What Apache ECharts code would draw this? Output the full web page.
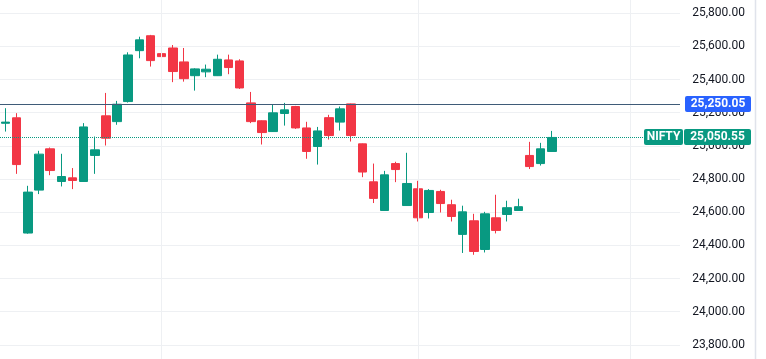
<!DOCTYPE html>
<html>
<head>
<meta charset="utf-8">
<script src="https://cdn.jsdelivr.net/npm/echarts@6/dist/echarts.min.js"></script>
<style>
  html, body { margin: 0; padding: 0; background: #ffffff; }
  #chart { width: 766px; height: 359px; }
</style>
</head>
<body>
<div id="chart"></div>
<script>
// Trading days (including empty future slots up to the right edge)
const dates = [
  '2025-06-11','2025-06-12','2025-06-13','2025-06-16','2025-06-17','2025-06-18','2025-06-19','2025-06-20',
  '2025-06-23','2025-06-24','2025-06-25','2025-06-26','2025-06-27','2025-06-30',
  '2025-07-01','2025-07-02','2025-07-03','2025-07-04','2025-07-07','2025-07-08','2025-07-09','2025-07-10',
  '2025-07-11','2025-07-14','2025-07-15','2025-07-16','2025-07-17','2025-07-18','2025-07-21','2025-07-22',
  '2025-07-23','2025-07-24','2025-07-25','2025-07-28','2025-07-29','2025-07-30','2025-07-31',
  '2025-08-01','2025-08-04','2025-08-05','2025-08-06','2025-08-07','2025-08-08','2025-08-11','2025-08-12',
  '2025-08-13','2025-08-14','2025-08-18','2025-08-19','2025-08-20',
  '2025-08-21','2025-08-22','2025-08-25','2025-08-26','2025-08-28','2025-08-29',
  '2025-09-01','2025-09-02','2025-09-03','2025-09-04','2025-09-05'
];

const opens  = [25136,25169,24474,24733,24982,24785,24807,24785,24942,25181,25146,25267,25574,25664,
                25556,25590,25506,25423,25446,25423,25518,25512,25259,25151,25086,25195,25237,25108,24996,25170,
                25143,25253,25012,24783,24610,24893,24640,
                24741,24598,24725,24645,24466,24548,24375,24566,24586,24610,24942,24893,24966];
const closes = [25143,24887,24721,24950,24851,24815,24791,25114,24976,25046,25251,25548,25639,25514,
                25538,25448,25405,25464,25462,25522,25472,25349,25146,25080,25199,25217,25108,24966,25090,25062,
                25223,25062,24842,24683,24825,24857,24773,
                24566,24731,24652,24574,24602,24363,24590,24490,24627,24633,24875,24982,25050.55];
const lows   = [25086,24831,24470,24709,24823,24755,24739,24783,24831,25002,25127,25261,25528,25478,
                25502,25384,25387,25333,25414,25421,25432,25343,25137,25008,25084,25122,25102,24922,24887,25038,
                25092,25026,24811,24655,24608,24781,24638,
                24544,24562,24598,24544,24354,24343,24357,24472,24544,24608,24860,24881,24964];
const highs  = [25227,25197,24759,24970,24990,24952,24866,25137,25056,25319,25271,25564,25658,25669,
                25595,25608,25590,25468,25490,25550,25550,25522,25325,25153,25251,25259,25241,25145,25114,25187,
                25237,25255,25014,24893,24849,24904,24958,
                24789,24739,24735,24675,24639,24590,24602,24705,24669,24681,25024,25018,25090];

const monthStarts = ['2025-07-01','2025-08-01','2025-09-01'];
const yTicks = { min: 23600, max: 26000, step: 200 };
const refLevel = 25250.05;
const lastPrice = 25050.55;
const symbol = 'NIFTY';

const UP = '#089981', DOWN = '#f23645';

function fmt(v) {
  const s = Number(v).toFixed(2);
  const parts = s.split('.');
  parts[0] = parts[0].replace(/\B(?=(\d{3})+(?!\d))/g, ',');
  return parts.join('.');
}

const ohlc = opens.map((o, i) => [o, closes[i], lows[i], highs[i]]);

const chart = echarts.init(document.getElementById('chart'), null, { renderer: 'canvas' });

chart.setOption({
  animation: false,
  backgroundColor: '#ffffff',
  grid: { left: 0, right: 86, top: -20, bottom: -19, containLabel: false, outerBoundsMode: 'none' },
  xAxis: {
    type: 'category',
    data: dates,
    boundaryGap: true,
    axisLine: { show: false },
    axisTick: { show: false },
    axisLabel: { show: false },
    splitLine: { show: false }
  },
  yAxis: {
    type: 'value',
    position: 'right',
    min: yTicks.min,
    max: yTicks.max,
    interval: yTicks.step,
    axisLine: { show: false },
    axisTick: { show: false },
    axisLabel: {
      align: 'right',
      margin: 65,
      color: '#131722',
      fontSize: 12,
      fontFamily: 'Roboto',
      formatter: v => fmt(v)
    },
    splitLine: { show: true, lineStyle: { color: '#eef0f3', width: 1 } }
  },
  series: [
    {
      type: 'line',
      data: [],
      z: 1,
      silent: true,
      markLine: {
        silent: true,
        symbol: ['none', 'none'],
        label: { show: false },
        lineStyle: { color: '#eef0f3', type: 'solid', width: 1 },
        data: monthStarts.map(d => ({ xAxis: d }))
      }
    },
    {
      type: 'candlestick',
      name: symbol,
      z: 2,
      barWidth: 9,
      data: ohlc,
      itemStyle: {
        color: UP, color0: DOWN,
        borderColor: UP, borderColor0: DOWN,
        borderWidth: 1
      },
      markLine: {
        silent: true,
        symbol: ['none', 'none'],
        label: { show: false },
        data: [
          { yAxis: refLevel, lineStyle: { color: '#3f5b78', type: 'solid', width: 1 } },
          { yAxis: lastPrice, lineStyle: { color: UP, type: 'dotted', width: 1 } }
        ]
      }
    }
  ]
});

const yRef = chart.convertToPixel({ yAxisIndex: 0 }, refLevel);
const yLast = chart.convertToPixel({ yAxisIndex: 0 }, lastPrice);
const font = 'bold 12px Roboto';

chart.setOption({
  graphic: [
    { type: 'line', shape: { x1: 755.5, y1: 0, x2: 755.5, y2: 359 }, style: { stroke: '#e0e3eb', lineWidth: 1.5 }, z: 10 },
    { type: 'rect', shape: { x: 685, y: Math.round(yRef) - 8, width: 66, height: 16, r: 2 }, style: { fill: '#2962ff' }, z: 10 },
    { type: 'text', x: 718, y: Math.round(yRef), style: { text: fmt(refLevel), fill: '#ffffff', font: font, textAlign: 'center', textVerticalAlign: 'middle' }, z: 11 },
    { type: 'rect', shape: { x: 644, y: Math.round(yLast) - 8, width: 39, height: 16, r: 2 }, style: { fill: UP }, z: 10 },
    { type: 'text', x: 663.5, y: Math.round(yLast), style: { text: symbol, fill: '#ffffff', font: font, textAlign: 'center', textVerticalAlign: 'middle' }, z: 11 },
    { type: 'rect', shape: { x: 684, y: Math.round(yLast) - 8, width: 67, height: 16, r: 2 }, style: { fill: UP }, z: 10 },
    { type: 'text', x: 717.5, y: Math.round(yLast), style: { text: fmt(lastPrice), fill: '#ffffff', font: font, textAlign: 'center', textVerticalAlign: 'middle' }, z: 11 }
  ]
});
</script>
</body>
</html>
